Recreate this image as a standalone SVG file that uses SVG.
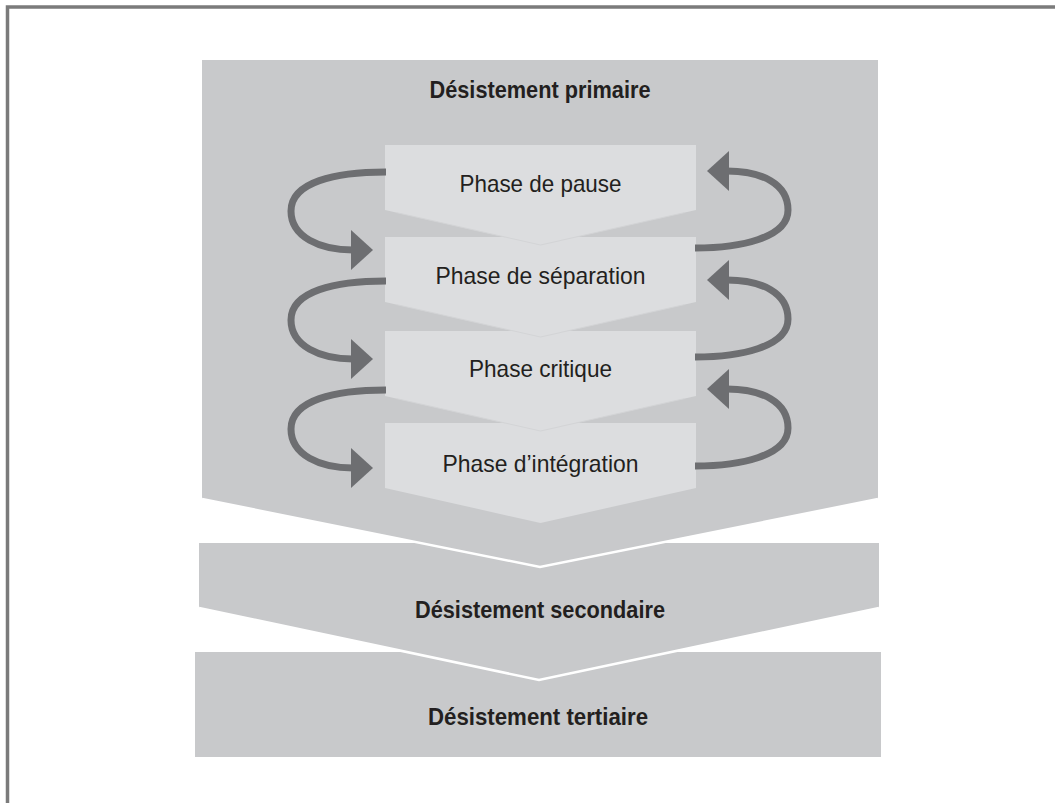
<svg xmlns="http://www.w3.org/2000/svg" width="1055" height="803" viewBox="0 0 1055 803">
  <style>
    .frame { fill: none; stroke: #7b7b7b; stroke-width: 3.5; }
    .stage { fill: #c8c9cb; }
    .sep { fill: none; stroke: #ffffff; stroke-width: 2.5; stroke-linejoin: miter; }
    .phase { fill: #dcdddf; }
    .phaseEdge { fill: none; stroke: #d3d4d6; stroke-width: 1; }
    .title { font-family: "Liberation Sans", Arial, sans-serif; font-weight: bold; font-size: 24px; fill: #231f20; text-anchor: middle; }
    .label { font-family: "Liberation Sans", Arial, sans-serif; font-size: 24px; fill: #231f20; text-anchor: middle; }
    .loop { fill: none; stroke: #6d6e71; stroke-width: 7; }
  </style>
  <defs>
    <marker id="head" markerUnits="userSpaceOnUse" viewBox="0 0 22 40" refX="2" refY="20" markerWidth="22" markerHeight="40" orient="auto">
      <path d="M0,0 L22,20 L0,40 Z" fill="#6d6e71"/>
    </marker>
  </defs>
  <rect width="1055" height="803" fill="#ffffff"/>
  <polyline class="frame" points="7.5,803 7.5,7 1055,7"/>

  <g id="desistement-tertiaire">
    <rect class="stage" x="195" y="652" width="686" height="105"/>
    <text class="title" x="538" y="725" textLength="220" lengthAdjust="spacingAndGlyphs">Désistement tertiaire</text>
  </g>

  <g id="desistement-secondaire">
    <polygon class="stage" points="199,543 879,543 879,608 539,680 199,608"/>
    <polyline class="sep" points="199,608 539,680 879,608"/>
    <text class="title" x="540" y="618" textLength="250" lengthAdjust="spacingAndGlyphs">Désistement secondaire</text>
  </g>

  <g id="desistement-primaire">
    <polygon class="stage" points="202,60 878,60 878,499 540,567 202,499"/>
    <polyline class="sep" points="202,499 540,567 878,499"/>
    <text class="title" x="540" y="98" textLength="221" lengthAdjust="spacingAndGlyphs">Désistement primaire</text>
  </g>

  <g id="phase-integration">
    <polygon class="phase" points="385,423 696,423 696,488 540.5,523 385,488"/>
    <text class="label" x="540.5" y="472" textLength="196" lengthAdjust="spacingAndGlyphs">Phase d’intégration</text>
  </g>
  <g id="phase-critique">
    <polygon class="phase" points="385,331 696,331 696,396 540.5,431 385,396"/>
    <polyline class="phaseEdge" points="396,398.5 540.5,431 685,398.5"/>
    <text class="label" x="540.5" y="377" textLength="143" lengthAdjust="spacingAndGlyphs">Phase critique</text>
  </g>
  <g id="phase-separation">
    <polygon class="phase" points="385,237 696,237 696,302 540.5,337 385,302"/>
    <polyline class="phaseEdge" points="396,304.5 540.5,337 685,304.5"/>
    <text class="label" x="540.5" y="284" textLength="210" lengthAdjust="spacingAndGlyphs">Phase de séparation</text>
  </g>
  <g id="phase-pause">
    <polygon class="phase" points="385,145 696,145 696,210 540.5,245 385,210"/>
    <polyline class="phaseEdge" points="396,212.5 540.5,245 685,212.5"/>
    <text class="label" x="540.5" y="192" textLength="162" lengthAdjust="spacingAndGlyphs">Phase de pause</text>
  </g>

  <g id="connectors">
    <path class="loop" marker-end="url(#head)" d="M386,172 C335,172 291,182 291,211 C291,237 320,250 353,250"/>
    <path class="loop" marker-end="url(#head)" d="M386,281 C335,281 291,291 291,320 C291,346 320,359 353,359"/>
    <path class="loop" marker-end="url(#head)" d="M386,390 C335,390 291,400 291,429 C291,455 320,468 353,468"/>
    <path class="loop" marker-end="url(#head)" d="M695,248 C740,248 788,238 788,210 C788,184 762,171 727,171"/>
    <path class="loop" marker-end="url(#head)" d="M695,357 C740,357 788,347 788,319 C788,293 762,280 727,280"/>
    <path class="loop" marker-end="url(#head)" d="M695,466 C740,466 788,456 788,428 C788,402 762,389 727,389"/>
  </g>
</svg>
